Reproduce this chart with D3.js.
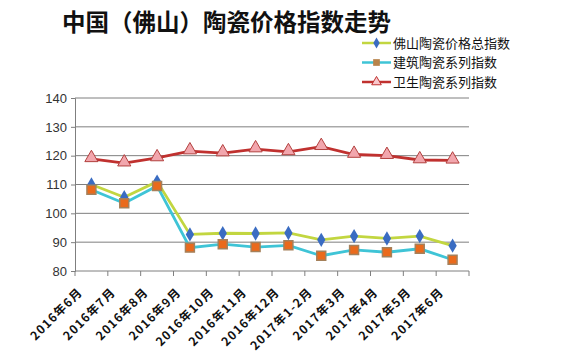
<!DOCTYPE html>
<html>
<head>
<meta charset="utf-8">
<script src="https://cdn.jsdelivr.net/npm/d3@7"></script>
<style>
  body { margin: 0; background: #fff; }
  svg text { font-family: "Noto Sans CJK SC", "DejaVu Sans", sans-serif; }
</style>
</head>
<body>
<div id="chart"></div>
<script>
// categories (x axis)
const months = ['2016年6月', '2016年7月', '2016年8月', '2016年9月', '2016年10月', '2016年11月',
  '2016年12月', '2017年1-2月', '2017年3月', '2017年4月', '2017年5月', '2017年6月'];

// series values
const totalIndex = [110, 105.6, 111, 92.7, 93.1, 93, 93.2, 90.8, 92.1, 91.3, 92.1, 88.8];
const buildIndex = [108.2, 103.5, 109.5, 88.1, 89.3, 88.3, 88.9, 85.3, 87.3, 86.5, 87.7, 83.9];
const sanitaryIndex = [118.9, 117.4, 119.2, 121.6, 120.9, 122.3, 121.3, 123.1, 120.4, 120, 118.5, 118.4];

const yTicks = [80, 90, 100, 110, 120, 130, 140];

const seriesNames = ['佛山陶瓷价格总指数', '建筑陶瓷系列指数', '卫生陶瓷系列指数'];

const W = 566, H = 352;
const margin = { top: 98, right: 97, bottom: 81, left: 75 };
const width = W - margin.left - margin.right;
const height = H - margin.top - margin.bottom;

const svg = d3.select('#chart').append('svg')
  .attr('width', W)
  .attr('height', H);

// title
svg.append('text')
  .attr('x', 62)
  .attr('y', 31)
  .style('font-size', '23.5px')
  .style('font-weight', 'bold')
  .attr('fill', '#111')
  .text('中国（佛山）陶瓷价格指数走势');

const g = svg.append('g')
  .attr('transform', `translate(${margin.left},${margin.top})`);

const x = d3.scaleBand().domain(months).range([0, width]);
const y = d3.scaleLinear().domain([80, 140]).range([height, 0]);

// gridlines
g.append('g')
  .selectAll('line')
  .data(yTicks.slice(1))
  .enter()
  .append('line')
  .attr('x1', 0)
  .attr('x2', width)
  .attr('y1', d => y(d))
  .attr('y2', d => y(d))
  .attr('stroke', '#7f7f7f')
  .attr('stroke-width', 1);

// y axis
const yAxis = g.append('g')
  .call(d3.axisLeft(y).tickValues(yTicks).tickSize(4).tickPadding(4));
yAxis.selectAll('text')
  .style('font-size', '13px')
  .style('font-family', '"Liberation Sans", Arial, sans-serif')
  .attr('fill', '#333');
yAxis.selectAll('line, .domain').attr('stroke', '#7f7f7f');

// x axis with ticks between categories
const xAxis = g.append('g')
  .attr('transform', `translate(0,${height})`);
xAxis.append('line')
  .attr('x1', 0).attr('x2', width)
  .attr('stroke', '#7f7f7f');
xAxis.selectAll('.tk')
  .data(months.concat(['end']))
  .enter()
  .append('line')
  .attr('x1', (d, i) => i * x.step())
  .attr('x2', (d, i) => i * x.step())
  .attr('y1', 0)
  .attr('y2', 5)
  .attr('stroke', '#7f7f7f');
xAxis.selectAll('.lbl')
  .data(months)
  .enter()
  .append('text')
  .attr('transform', d => `translate(${x(d) + x.bandwidth() / 2 - 11},${19}) rotate(-45)`)
  .attr('text-anchor', 'end')
  .attr('dy', '0.35em')
  .style('font-size', '12px')
  .style('letter-spacing', '1.2px')
  .style('font-weight', 'bold')
  .attr('fill', '#111')
  .text(d => d);

const cx = d => x(d) + x.bandwidth() / 2;

function drawLine(values, color) {
  g.append('path')
    .datum(values)
    .attr('fill', 'none')
    .attr('stroke', color)
    .attr('stroke-width', 2.8)
    .attr('d', d3.line().x((d, i) => cx(months[i])).y(d => y(d)));
}

drawLine(sanitaryIndex, '#c0312f');
drawLine(totalIndex, '#c2d640');
drawLine(buildIndex, '#3fc4d6');

const tri = d3.symbol().type(d3.symbolTriangle).size(75);
const sq = d3.symbol().type(d3.symbolSquare).size(80);
const dia = d3.symbol().type(d3.symbolDiamond).size(60);

g.selectAll('.m3')
  .data(sanitaryIndex)
  .enter()
  .append('path')
  .attr('transform', (d, i) => `translate(${cx(months[i])},${y(d) - 1})`)
  .attr('d', tri)
  .attr('fill', '#f2a6ad')
  .attr('stroke', '#b2403e')
  .attr('stroke-width', 1);

g.selectAll('.m1')
  .data(totalIndex)
  .enter()
  .append('path')
  .attr('transform', (d, i) => `translate(${cx(months[i])},${y(d)})`)
  .attr('d', dia)
  .attr('fill', '#3a6cc2');

g.selectAll('.m2')
  .data(buildIndex)
  .enter()
  .append('path')
  .attr('transform', (d, i) => `translate(${cx(months[i])},${y(d)})`)
  .attr('d', sq)
  .attr('fill', '#ea6a1c')
  .attr('stroke', '#a5805a')
  .attr('stroke-width', 1.5);

// legend
const legend = svg.append('g').attr('transform', 'translate(362,43)');
const legColors = ['#c2d640', '#3fc4d6', '#c0312f'];
const legMarks = [
  { d: d3.symbol().type(d3.symbolDiamond).size(35)(), fill: '#3a6cc2', stroke: 'none' },
  { d: d3.symbol().type(d3.symbolSquare).size(45)(), fill: '#b8834a', stroke: 'none' },
  { d: d3.symbol().type(d3.symbolTriangle).size(40)(), fill: '#f8c8cc', stroke: '#c0312f' }
];
seriesNames.forEach((name, i) => {
  const row = legend.append('g').attr('transform', `translate(0,${i * 19.5})`);
  row.append('line')
    .attr('x1', 0).attr('x2', 29)
    .attr('stroke', legColors[i])
    .attr('stroke-width', 2.5);
  row.append('path')
    .attr('transform', 'translate(14.5,0)')
    .attr('d', legMarks[i].d)
    .attr('fill', legMarks[i].fill)
    .attr('stroke', legMarks[i].stroke);
  row.append('text')
    .attr('x', 31)
    .attr('dy', '0.35em')
    .style('font-size', '13px')
    .attr('fill', '#111')
    .text(name);
});
</script>
</body>
</html>
